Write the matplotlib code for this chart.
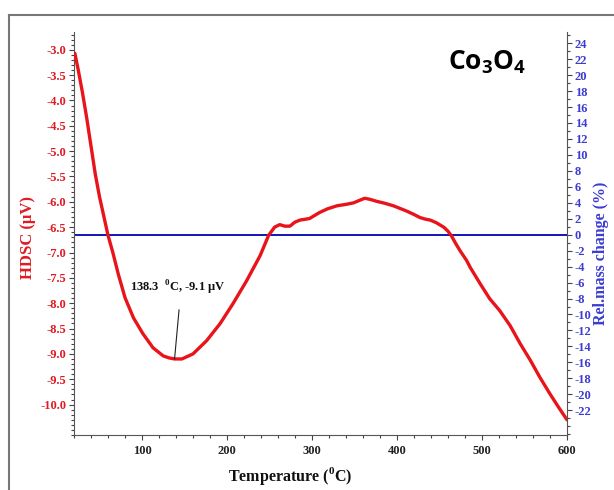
import matplotlib
matplotlib.use("Agg")
import matplotlib.pyplot as plt
from matplotlib.lines import Line2D
from matplotlib.ticker import MultipleLocator, FormatStrFormatter

plt.rcParams["axes.unicode_minus"] = False
plt.rcParams["mathtext.fontset"] = "custom"
plt.rcParams["mathtext.rm"] = "Liberation Serif"
plt.rcParams["mathtext.bf"] = "Liberation Serif:bold"
plt.rcParams["mathtext.sf"] = "Open Sans:bold"

# DSC signal (HDSC, µV) versus temperature (°C)
temperature = [21, 25, 30, 35, 40, 45, 50, 55, 60, 66, 72, 80, 90, 101, 113, 125,
               132, 138.3, 147, 160, 176, 192, 207, 223, 239, 249, 256, 262, 268,
               274, 280, 286, 297, 303, 309, 318, 329, 340, 349, 356, 362, 368,
               376, 386, 396, 411, 420, 427, 433, 439, 446, 455, 460, 464, 469,
               474, 482, 486, 498, 509, 521, 533, 545, 557, 568, 580, 590, 600]
hdsc = [-3.07, -3.40, -3.85, -4.35, -4.90, -5.45, -5.90, -6.28, -6.66, -7.02,
        -7.42, -7.89, -8.29, -8.60, -8.88, -9.04, -9.08, -9.10, -9.10, -9.00,
        -8.74, -8.40, -8.01, -7.56, -7.06, -6.66, -6.50, -6.45, -6.48, -6.48,
        -6.40, -6.36, -6.33, -6.27, -6.21, -6.14, -6.08, -6.05, -6.02, -5.97,
        -5.93, -5.95, -5.99, -6.03, -6.08, -6.18, -6.25, -6.31, -6.34, -6.36,
        -6.41, -6.50, -6.58, -6.67, -6.82, -6.96, -7.16, -7.29, -7.62, -7.91,
        -8.15, -8.44, -8.80, -9.13, -9.46, -9.79, -10.05, -10.30]

# Relative mass change (%) versus temperature (°C)
mass_temperature = [20, 600]
mass_change = [0.0, 0.0]

# Endothermic peak
peak_temperature = 138.3
peak_hdsc = -9.1

x_ticks = [100, 200, 300, 400, 500, 600]
left_ticks = [-3.0, -3.5, -4.0, -4.5, -5.0, -5.5, -6.0, -6.5, -7.0, -7.5,
              -8.0, -8.5, -9.0, -9.5, -10.0]
right_ticks = list(range(-22, 25, 2))

red = "#e8141a"
red_text = "#e01b24"
blue_line = "#1414b4"
blue_text = "#3c3cd2"
serif = "Liberation Serif"

fig = plt.figure(figsize=(6.14, 4.90), dpi=100)
ax = fig.add_axes([74 / 614, 1 - 435 / 490, 493 / 614, 403 / 490])
ax2 = ax.twinx()

ax.plot(temperature, hdsc, color=red, lw=2.4, solid_capstyle="round",
        solid_joinstyle="round", zorder=3)
ax2.plot(mass_temperature, mass_change, color=blue_line, lw=1.4, zorder=2)
ax.set_zorder(ax2.get_zorder() + 1)
ax.patch.set_visible(False)

ax.set_xlim(20, 600)
ax.set_ylim(-10.6, -2.65)
ax2.set_ylim(-25.1, 25.4)

ax.set_xticks(x_ticks)
ax.xaxis.set_minor_locator(MultipleLocator(20))
ax.set_yticks(left_ticks)
ax.yaxis.set_major_formatter(FormatStrFormatter("%.1f"))
ax.yaxis.set_minor_locator(MultipleLocator(0.1))
ax2.set_yticks(right_ticks)
ax2.yaxis.set_minor_locator(MultipleLocator(1))

spine_color = "#555555"
for s in ("top", "right"):
    ax.spines[s].set_visible(False)
for s in ("top", "left", "bottom"):
    ax2.spines[s].set_visible(False)
for s in ("left", "bottom"):
    ax.spines[s].set_color(spine_color)
ax2.spines["right"].set_color(spine_color)

tick_font = dict(family=serif, weight="bold", size=9)
ax.tick_params(axis="both", which="both", direction="out", color="#444444", width=0.8)
ax.tick_params(axis="both", which="major", length=3.5, pad=2)
ax.tick_params(axis="both", which="minor", length=2)
ax.tick_params(axis="x", pad=4)
ax2.tick_params(axis="y", which="both", direction="out", color="#444444", width=0.8)
ax2.tick_params(axis="y", which="major", length=3.5, pad=2)
ax2.tick_params(axis="y", which="minor", length=2)

for lab in ax.get_xticklabels():
    lab.set(**tick_font, color="#222222")
for lab in ax.get_yticklabels():
    lab.set(**tick_font, color=red_text)
for lab in ax2.get_yticklabels():
    lab.set(**tick_font, color=blue_text)

ax.set_xlabel(r"Temperature ($^{\mathbf{0}}$C)", family=serif, weight="bold",
              size=11.5, color="#111111")
ax.xaxis.set_label_coords(0.438, -0.075)
ax.set_ylabel("HDSC (µV)", family=serif, weight="bold", size=12, color=red_text)
ax.yaxis.set_label_coords(-0.078, 0.49)
ax2.set_ylabel("Rel.mass change (%)", family=serif, weight="bold", size=11.5,
               color=blue_text)
ax2.yaxis.set_label_coords(1.052, 0.45)

ax.text(0.838, 0.924, r"$\mathsf{Co_3O_4}$", transform=ax.transAxes,
        ha="center", va="center", size=19)

ax.annotate(r"138.3  $^{\mathbf{0}}$C, -9.1 µV", xy=(peak_temperature, peak_hdsc),
            xytext=(2, 51), textcoords="offset points", ha="center", va="center",
            family=serif, weight="bold", size=9, color="#111111",
            arrowprops=dict(arrowstyle="-", color="#222222", lw=0.8,
                            relpos=(0.53, 0.0), shrinkA=7, shrinkB=0))

# Page frame around the figure
frame_color = "#777777"
fig.add_artist(Line2D([9 / 614, 9 / 614], [0, 1 - 15 / 490], color=frame_color, lw=1.5))
fig.add_artist(Line2D([9 / 614, 1], [1 - 15 / 490, 1 - 15 / 490], color=frame_color, lw=1.5))

fig.savefig("out.png", dpi=100)
